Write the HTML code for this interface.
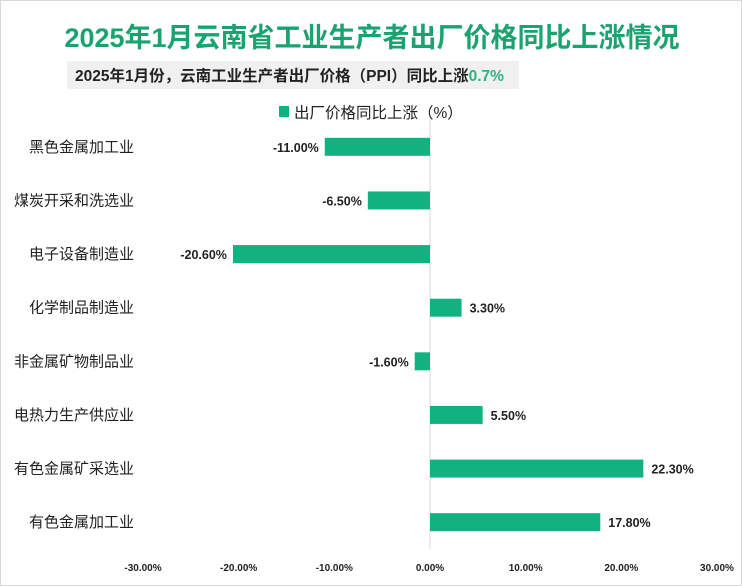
<!DOCTYPE html>
<html><head><meta charset="utf-8"><style>
body{margin:0;background:#fff;font-family:"Liberation Sans","Noto Sans CJK SC",sans-serif;}
#wrap{position:relative;width:740px;height:584px;border:1px solid #d9d9d9;overflow:hidden;}
</style></head><body>
<div id="wrap">
<svg width="740" height="584" xmlns="http://www.w3.org/2000/svg" id="svg">
<text x="371" y="46" text-anchor="middle" font-size="27" font-weight="bold" fill="#1aa36f" font-family="Liberation Sans,Noto Sans CJK SC,sans-serif">2025年1月云南省工业生产者出厂价格同比上涨情况</text>
<rect x="66" y="60" width="452" height="28" fill="#f0f0f0"/>
<text x="74" y="80" font-size="15.5" font-weight="bold" fill="#222" font-family="Liberation Sans,Noto Sans CJK SC,sans-serif">2025年1月份，云南工业生产者出厂价格（PPI）同比上涨<tspan fill="#2db37f">0.7%</tspan></text>
<rect x="278" y="105" width="10" height="11" fill="#10b37f"/>
<text x="293" y="117" font-size="15.5" fill="#222" font-family="Liberation Sans,Noto Sans CJK SC,sans-serif">出厂价格同比上涨（%）</text>
<g id="plot"></g>
</svg>
</div>
<script>
const categories=["黑色金属加工业","煤炭开采和洗选业","电子设备制造业","化学制品制造业","非金属矿物制品业","电热力生产供应业","有色金属矿采选业","有色金属加工业"];
const values=[-11.0,-6.5,-20.6,3.3,-1.6,5.5,22.3,17.8];
const ticks=[-30,-20,-10,0,10,20,30];
const NS="http://www.w3.org/2000/svg";
const g=document.getElementById('plot');
const x=v=>429+v*287/30;
const top0=119,bot=548,band=(bot-top0)/categories.length;
const y=i=>top0+band*(i+0.5);
function mk(t,a){const e=document.createElementNS(NS,t);for(const k in a)e.setAttribute(k,a[k]);g.appendChild(e);return e;}
const ax=mk('line',{x1:x(0),x2:x(0),y1:top0,y2:bot,stroke:'#d9d9d9'});


ticks.forEach(t=>{
 const e=mk('text',{x:x(t),y:570,'text-anchor':'middle','font-size':'10','font-weight':'bold',fill:'#222'});
 e.textContent=t.toFixed(2)+'%';
 
 
});
categories.forEach((c,i)=>{
 const v=values[i];
 const l=mk('text',{x:133,y:y(i)+5,'text-anchor':'end','font-size':'15',fill:'#222'});
 l.textContent=c;
 
 
 const b=mk('rect',{x:Math.min(x(0),x(v)),y:y(i)-9,width:Math.abs(x(v)-x(0)),height:18,fill:'#10b37f'});
 
 
 const vl=mk('text',{x:v<0?x(v)-6:x(v)+8,y:y(i)+5,'text-anchor':v<0?'end':'start','font-size':'12.5','font-weight':'bold',fill:'#222'});
 vl.textContent=v.toFixed(2)+'%';
 
 
});
</script>
</body></html>
